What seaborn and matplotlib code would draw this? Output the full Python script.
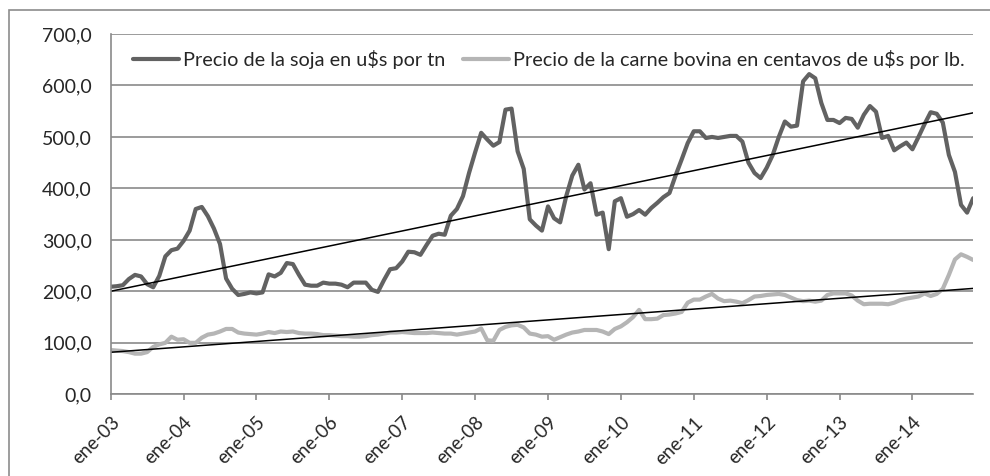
import numpy as np
import pandas as pd
import seaborn as sns
import matplotlib.pyplot as plt
from matplotlib.patches import Rectangle

# monthly values, ene-03 .. nov-14
soja = [209, 210, 212, 224, 232, 229, 214, 208, 230, 268, 280, 283,
        298, 318, 360, 364, 346, 322, 292, 225, 205, 193, 195, 198,
        196, 198, 233, 229, 236, 255, 253, 232, 213, 211, 211, 217,
        215, 215, 213, 208, 217, 217, 217, 203, 199, 222, 243, 245,
        258, 277, 276, 271, 290, 308, 312, 310, 347, 360, 385, 430,
        470, 508, 495, 483, 490, 553, 555, 472, 438, 340, 328, 318,
        365, 342, 334, 385, 425, 446, 398, 410, 349, 353, 282, 375,
        381, 345, 350, 358, 349, 362, 372, 383, 391, 425, 456, 488,
        511, 511, 498, 500, 498, 500, 502, 502, 491, 450, 430, 420,
        440, 465, 500, 530, 520, 522, 608, 622, 614, 566, 533, 533,
        527, 537, 535, 518, 543, 560, 549, 498, 502, 474, 482, 489,
        476, 500, 525, 548, 545, 528, 465, 432, 368, 353, 381]

carne = [86, 85, 84, 82, 79, 79, 82, 92, 97, 100, 112, 106,
         107, 100, 100, 110, 116, 118, 122, 127, 127, 120, 118, 117,
         116, 118, 121, 119, 122, 121, 122, 119, 118, 118, 117, 115,
         115, 114, 113, 113, 112, 112, 113, 115, 116, 118, 120, 120,
         121, 120, 119, 119, 119, 120, 119, 118, 118, 116, 118, 120,
         122, 128, 105, 104, 125, 131, 134, 135, 130, 118, 116, 112,
         113, 106, 111, 116, 120, 122, 125, 125, 125, 122, 117, 127,
         132, 140, 150, 164, 146, 146, 147, 154, 155, 157, 160, 178,
         184, 184, 190, 195, 186, 181, 182, 180, 177, 183, 190, 191,
         193, 194, 195, 193, 188, 183, 181, 182, 180, 182, 193, 196,
         196, 196, 192, 182, 175, 176, 176, 176, 175, 178, 183, 186,
         188, 190, 196, 191, 195, 205, 232, 262, 272, 267, 261]

years = ['03', '04', '05', '06', '07', '08', '09', '10', '11', '12', '13', '14']
year_labels = ['ene-' + y for y in years]

lbl_soja = 'Precio de la soja en u$s por tn'
lbl_carne = 'Precio de la carne bovina en centavos de u$s por lb.'

df = pd.DataFrame({'mes': np.arange(len(soja)), 'soja': soja, 'carne': carne})

sns.set_style('white')
plt.rcParams['font.family'] = ['Lato', 'DejaVu Sans']

fig = plt.figure(figsize=(9.9, 4.76), dpi=100)
ax = fig.add_axes([0.1118, 0.1716, 0.8712, 0.757])

# outer chart frame (cut off at right and bottom)
fig.patches.append(Rectangle((9 / 990, -0.2), 1.2, 1.2 - 10 / 476, transform=fig.transFigure,
                             fill=False, edgecolor='#8c8c8c', linewidth=1.2))

grid_col = '#8a8a8a'
ax.yaxis.grid(True, color=grid_col, linewidth=1.2)
ax.set_axisbelow(True)

sns.lineplot(data=df, x='mes', y='soja', ax=ax, color='#626262', linewidth=3.0, label=lbl_soja)
sns.lineplot(data=df, x='mes', y='carne', ax=ax, color='#b5b5b5', linewidth=3.0, label=lbl_carne)

# linear trend lines
sns.regplot(data=df, x='mes', y='soja', ax=ax, scatter=False, ci=None, truncate=True,
            line_kws={'color': 'black', 'linewidth': 1.1})
sns.regplot(data=df, x='mes', y='carne', ax=ax, scatter=False, ci=None, truncate=True,
            line_kws={'color': 'black', 'linewidth': 1.1})

ax.set_xlim(0, len(soja) - 1)
ax.set_ylim(0, 700)
ax.set_yticks(np.arange(0, 701, 100))
ax.set_yticklabels([f'{v:.1f}'.replace('.', ',') for v in np.arange(0, 701, 100)], fontsize=14)
ax.set_xticks(np.arange(0, len(soja), 12))
ax.set_xticklabels(year_labels, rotation=45, ha='right', rotation_mode='anchor', fontsize=13.5)
ax.set_xlabel('')
ax.set_ylabel('')

ax.tick_params(axis='y', length=4.5, width=1.2, color=grid_col, pad=9)
ax.tick_params(axis='x', length=4, width=1.2, color=grid_col, pad=10, direction='out', bottom=True)

for s in ['top', 'right']:
    ax.spines[s].set_visible(False)
for s in ['left', 'bottom']:
    ax.spines[s].set_color(grid_col)
    ax.spines[s].set_linewidth(1.2)

ax.legend(loc='center', bbox_to_anchor=(0.508, 0.928), ncol=2, frameon=False,
          fontsize=14.3, handlelength=2.3, handletextpad=0.2, columnspacing=0.9,
          borderpad=0, borderaxespad=0)

fig.savefig('out.png', dpi=100)
